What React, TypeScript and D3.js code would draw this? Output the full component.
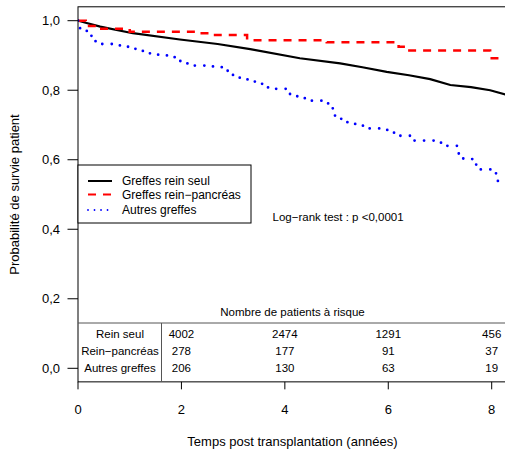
import React from "react";
import * as d3 from "d3";

const xTicks = [0, 2, 4, 6, 8];
const yTicks = [0, 0.2, 0.4, 0.6, 0.8, 1.0];
const yTickLabels = ["0,0", "0,2", "0,4", "0,6", "0,8", "1,0"];

const reinSeulT = [0, 0.43, 1.06, 1.97, 2.7, 3.33, 4.29, 5.07, 5.5, 5.97, 6.4, 6.81, 7.2, 7.6, 7.97, 8.3];
const reinSeulV = [1.0, 0.983, 0.964, 0.946, 0.933, 0.918, 0.892, 0.877, 0.866, 0.853, 0.843, 0.832, 0.815, 0.809, 0.8, 0.786];

const reinPancT = [0, 0.15, 0.45, 1.0, 2.3, 2.65, 3.27, 4.81, 6.2, 6.35, 7.97, 8.3];
const reinPancV = [1.0, 0.985, 0.977, 0.968, 0.964, 0.959, 0.944, 0.938, 0.925, 0.914, 0.892, 0.892];

const autresT = [0, 0.04, 0.17, 0.26, 0.43, 0.81, 1.0, 1.16, 1.35, 1.55, 1.72, 1.88, 2.03, 2.22, 2.61, 2.78, 2.94, 3.09, 3.27, 3.42, 3.56, 3.75, 4.1, 4.24, 4.4, 4.8, 4.91, 4.97, 5.09, 5.28, 5.47, 5.63, 5.98, 6.15, 6.5, 6.91, 7.06, 7.35, 7.45, 7.64, 7.7, 8.07, 8.12, 8.3];
const autresV = [1.0, 0.975, 0.959, 0.941, 0.933, 0.925, 0.919, 0.913, 0.906, 0.901, 0.895, 0.884, 0.877, 0.871, 0.868, 0.856, 0.844, 0.836, 0.831, 0.82, 0.808, 0.804, 0.789, 0.777, 0.77, 0.762, 0.748, 0.722, 0.708, 0.703, 0.698, 0.69, 0.678, 0.669, 0.655, 0.649, 0.64, 0.618, 0.602, 0.594, 0.572, 0.561, 0.537, 0.537];

const legendLabels = ["Greffes rein seul", "Greffes rein\u2212pancréas", "Autres greffes"];
const riskRows = ["Rein seul", "Rein\u2212pancréas", "Autres greffes"];
const riskTimes = [2, 4, 6, 8];
const riskRein = [4002, 2474, 1291, 456];
const riskPanc = [278, 177, 91, 37];
const riskAutres = [206, 130, 63, 19];

const FONT = "'Liberation Sans', Arial, Helvetica, sans-serif";

export default function App() {
  const W = 505, H = 454;
  const x = d3.scaleLinear().domain([0, 8]).range([78, 491.7]);
  const y = d3.scaleLinear().domain([0, 1]).range([368.3, 20.7]);
  const boxLeft = x(0), boxRight = x(8.5), boxTop = y(1.04), boxBottom = y(-0.039);

  const mk = (ts: number[], vs: number[], curve: any) =>
    d3.line<number>().x((_, i) => x(ts[i])).y((_, i) => y(vs[i])).curve(curve)(ts.map((t) => t)) || "";

  const blackPath = mk(reinSeulT, reinSeulV, d3.curveLinear);
  const redPath = mk(reinPancT, reinPancV, d3.curveStepAfter);
  const bluePath = mk(autresT, autresV, d3.curveStepAfter);

  const legendSample = [
    { color: "#000", dash: "", w: 2, cap: "butt" },
    { color: "#ff0000", dash: "8 7", w: 2, cap: "butt" },
    { color: "#0000ff", dash: "0.01 6.5", w: 1.8, cap: "round" },
  ];

  const riskData = [riskRein, riskPanc, riskAutres];
  const rowY = [334, 351, 367.5];
  const legendY = [181, 194.5, 210];
  const sepX = 161.5;
  const tableTop = 323;

  return (
    <svg width={W} height={H} style={{ position: "absolute", left: 0, top: 0, background: "#fff" }} fontFamily={FONT}>
      <defs>
        <clipPath id="plotclip">
          <rect x={boxLeft} y={boxTop} width={boxRight - boxLeft} height={boxBottom - boxTop} />
        </clipPath>
      </defs>
      <rect x={0} y={0} width={W} height={H} fill="#fff" />

      <g clipPath="url(#plotclip)" fill="none">
        <path d={blackPath} stroke="#000" strokeWidth={2.2} />
        <path d={redPath} stroke="#ff0000" strokeWidth={2.5} strokeDasharray="8 7" />
        <path d={bluePath} stroke="#0000ff" strokeWidth={2.8} strokeDasharray="0.01 9.5" strokeLinecap="round" />
      </g>

      <rect x={boxLeft} y={boxTop} width={boxRight - boxLeft} height={boxBottom - boxTop} fill="none" stroke="#000" strokeWidth={1} />

      {yTicks.map((v, i) => (
        <g key={"y" + i}>
          <line x1={boxLeft - 10.5} x2={boxLeft} y1={y(v)} y2={y(v)} stroke="#000" strokeWidth={1} />
          <text x={60} y={y(v)} dy="0.35em" textAnchor="end" fontSize={13}>{yTickLabels[i]}</text>
        </g>
      ))}
      <text transform={`translate(19,${y(0.5)}) rotate(-90)`} textAnchor="middle" fontSize={13}>Probabilité de survie patient</text>

      {xTicks.map((t, i) => (
        <g key={"x" + i}>
          <line x1={x(t)} x2={x(t)} y1={boxBottom} y2={boxBottom + 7.5} stroke="#000" strokeWidth={1} />
          <text x={x(t)} y={409} dy="0.35em" textAnchor="middle" fontSize={13}>{t}</text>
        </g>
      ))}
      <text x={292.5} y={441} dy="0.35em" textAnchor="middle" fontSize={13}>Temps post transplantation (années)</text>

      <rect x={boxLeft} y={165} width={251 - boxLeft} height={223 - 165} fill="#fff" stroke="#000" strokeWidth={1} />
      {legendLabels.map((lab, i) => (
        <g key={"l" + i}>
          <line x1={88} x2={112} y1={legendY[i]} y2={legendY[i]} stroke={legendSample[i].color} strokeWidth={legendSample[i].w} strokeDasharray={legendSample[i].dash} strokeLinecap={legendSample[i].cap as any} />
          <text x={122} y={legendY[i]} dy="0.35em" fontSize={12}>{lab}</text>
        </g>
      ))}

      <text x={272.5} y={216.5} dy="0.35em" fontSize={11.5}>Log{"\u2212"}rank test : p &lt;0,0001</text>

      <text x={292.5} y={312.3} dy="0.35em" textAnchor="middle" fontSize={11.5}>Nombre de patients à risque</text>
      <line x1={boxLeft} x2={boxRight} y1={tableTop} y2={tableTop} stroke="#555" strokeWidth={1} />
      <line x1={sepX} x2={sepX} y1={tableTop} y2={boxBottom} stroke="#555" strokeWidth={1} />
      {riskRows.map((r, i) => (
        <text key={"r" + i} x={120} y={rowY[i]} dy="0.35em" textAnchor="middle" fontSize={11.5}>{r}</text>
      ))}
      {riskData.map((row, i) =>
        row.map((n, j) => (
          <text key={"n" + i + "-" + j} x={x(riskTimes[j])} y={rowY[i]} dy="0.35em" textAnchor="middle" fontSize={11.5}>{n}</text>
        ))
      )}
    </svg>
  );
}
